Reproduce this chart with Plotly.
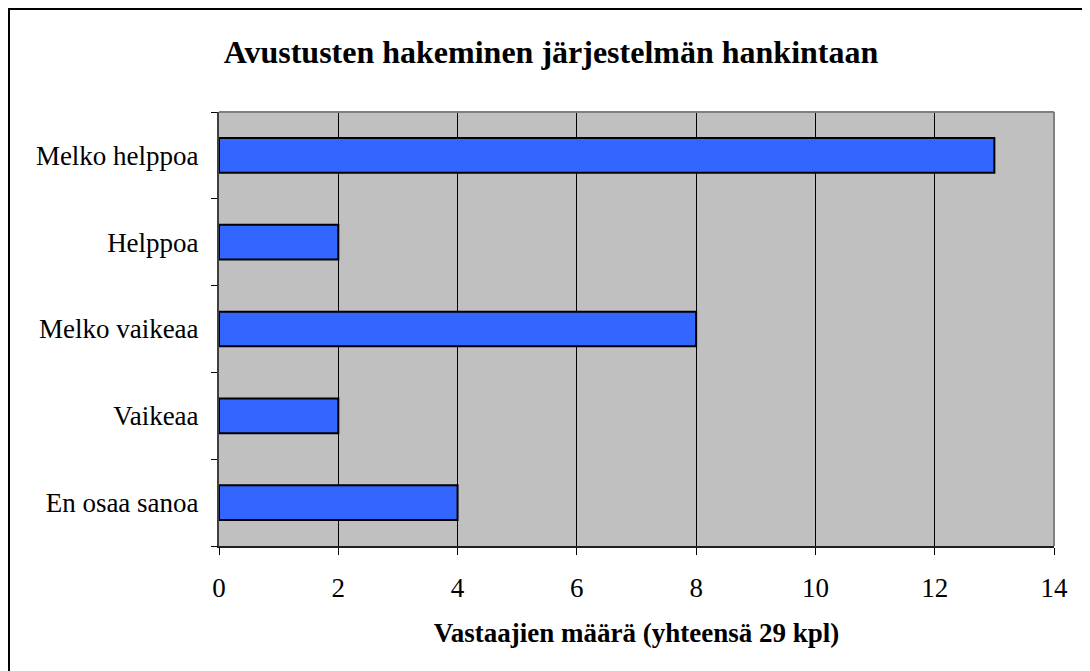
import plotly.graph_objects as go

categories = ["Melko helppoa", "Helppoa", "Melko vaikeaa", "Vaikeaa", "En osaa sanoa"]
counts = [13, 2, 8, 2, 4]
x_ticks = [0, 2, 4, 6, 8, 10, 12, 14]

title_text = "Avustusten hakeminen järjestelmän hankintaan"
x_title = "Vastaajien määrä (yhteensä 29 kpl)"

# page is offset by the 8px body margin, so the figure origin sits at (8, 8)
W, H = 1090, 671
L, R, T, B = 211, 44, 104, 133
pw, ph = W - L - R, H - T - B

fig = go.Figure()
fig.add_trace(go.Bar(
    x=counts,
    y=categories,
    orientation="h",
    marker=dict(color="#3366FF", line=dict(color="black", width=2)),
    hoverinfo="x+y",
))

serif = "Liberation Serif, Times New Roman, serif"

fig.update_layout(
    width=W, height=H,
    margin=dict(l=L, r=R, t=T, b=B),
    paper_bgcolor="white",
    plot_bgcolor="#C0C0C0",
    bargap=0.6,
    showlegend=False,
    font=dict(family=serif, size=27, color="black"),
    title=dict(text="<b>" + title_text + "</b>", x=(551 - 8) / W, xanchor="center",
               y=1 - 44 / H, yanchor="middle", font=dict(size=32, family=serif)),
    xaxis=dict(
        range=[0, 14], tickvals=x_ticks, ticks="outside", ticklen=7,
        tickcolor="black", showgrid=True, gridcolor="black", gridwidth=1,
        showline=True, linecolor="#202020", linewidth=2, mirror=False,
        zeroline=False, tickfont=dict(size=27), ticklabelstandoff=10,
        title=dict(text="<b>" + x_title + "</b>", font=dict(size=27), standoff=21),
    ),
    yaxis=dict(
        categoryorder="array", categoryarray=categories[::-1],
        tickson="boundaries", ticks="outside", ticklen=6, tickcolor="black",
        showline=True, linecolor="#404040", linewidth=2,
        showgrid=False, tickfont=dict(size=27), ticklabelstandoff=13,
    ),
)

# plot area border on top and right
fig.add_shape(type="line", xref="paper", yref="paper", x0=0, x1=1, y0=1, y1=1,
              line=dict(color="#808080", width=2))
fig.add_shape(type="line", xref="paper", yref="paper", x0=1, x1=1, y0=0, y1=1,
              line=dict(color="#808080", width=2))

# outer chart border
fig.add_shape(type="rect", xref="paper", yref="paper",
              x0=(1 - L) / pw, x1=(W + 10 - L) / pw,
              y0=(-10 - B) / ph, y1=(H - 1 - B) / ph,
              line=dict(color="black", width=2), layer="below")

fig.write_html("out.html")
